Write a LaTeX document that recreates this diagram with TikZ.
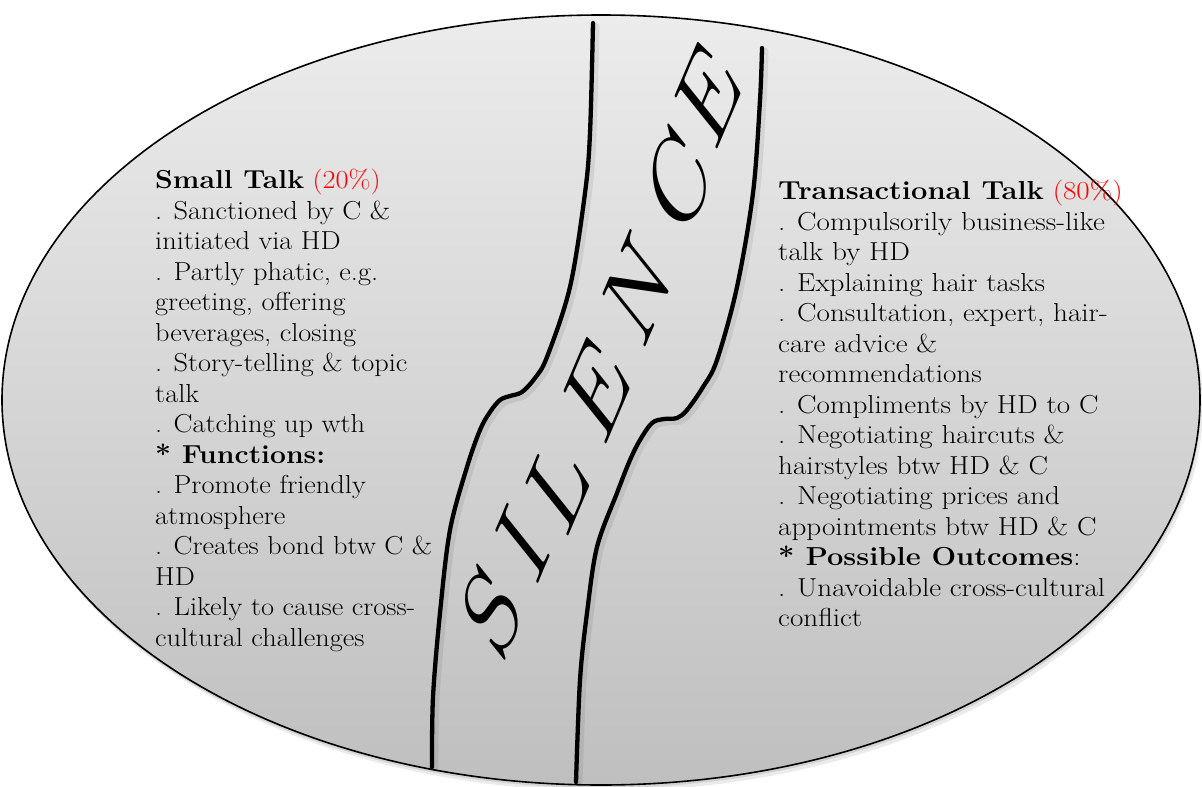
\documentclass[tikz,border=0pt]{standalone}
\usetikzlibrary{calc}
\definecolor{topg}{HTML}{ECECEC}
\definecolor{botg}{HTML}{BFBFBF}
\newcommand{\ltr}[2]{\makebox[0pt]{\raisebox{#1}{#2}}}
\begin{document}
\begin{tikzpicture}[x=1pt,y=-1pt,
  txt/.style={anchor=north west, inner sep=0pt, align=left, font=\fontsize{26}{30.5}\selectfont},
  river/.style={line width=4.3pt, line cap=round, line join=round},
  rshadow/.style={line width=7pt, draw=black, opacity=0.07, line cap=round},
  silence/.style={font=\fontsize{88}{88}\selectfont\itshape, inner sep=0pt, anchor=base west, rotate=67, xscale=1.35, xslant=0.15}]
\useasboundingbox (0,0) rectangle (1202,787);
% ellipse shadow
\fill[black, opacity=0.08] (604,406) ellipse [x radius=599, y radius=385];
\fill[black, opacity=0.10] (602,403) ellipse [x radius=599, y radius=385];
% ellipse
\shade[top color=topg, bottom color=botg, draw=black, line width=1.6pt] (601,400) ellipse [x radius=599, y radius=385];
% river shadows
\draw[rshadow] plot[smooth, tension=0.55] coordinates {(596,26) (593,136) (588,196) (573,290) (550,360) (538,381) (525,395) (513,399) (503,403) (493,415) (483,433) (470,470) (453,533) (443,616) (436,700) (435,768)};
\draw[rshadow] plot[smooth, tension=0.55] coordinates {(765,51) (763,103) (756,196) (740,290) (720,363) (706,390) (690,413) (680,421) (667,422) (655,426) (643,443) (633,463) (620,496) (600,550) (590,616) (583,683) (579,782)};
% river
\draw[river] plot[smooth, tension=0.55] coordinates {(593,23) (590,133) (585,193) (570,287) (547,357) (535,378) (522,392) (510,396) (500,400) (490,412) (480,430) (467,467) (450,530) (440,613) (433,697) (432,767)};
\draw[river] plot[smooth, tension=0.55] coordinates {(762,48) (760,100) (753,193) (737,287) (717,360) (703,387) (687,410) (677,418) (664,419) (652,423) (640,440) (630,460) (617,493) (597,547) (587,613) (580,680) (576,782)};
% SILENCE
\node[silence] (sil) at (512.9,637.2) {\ltr{0pt}{S}\hspace{55.0pt}\ltr{-2.3pt}{I}\hspace{52.8pt}\ltr{-12.1pt}{L}\hspace{75.9pt}\ltr{-10.9pt}{E}\hspace{79.4pt}\ltr{-8.6pt}{N}\hspace{84.3pt}\ltr{-4.5pt}{C}\hspace{67.6pt}\ltr{2.3pt}{E}};
% left text
\node[txt, xscale=1.09] (lefttxt) at (155,169) {\textbf{Small Talk} \textcolor{red}{(20\%)}\\
. Sanctioned by C \&\\
initiated via HD\\
. Partly phatic, e.g.\\
greeting, offering\\
beverages, closing\\
. Story-telling \& topic\\
talk\\
. Catching up wth\\
\textbf{* Functions:}\\
. Promote friendly\\
atmosphere\\
. Creates bond btw C \&\\
HD\\
. Likely to cause cross-\\
cultural challenges};
% right text
\node[txt, xscale=1.12] (righttxt) at (778,180) {\textbf{Transactional Talk} \textcolor{red}{(80\%)}\\
. Compulsorily business-like\\
talk by HD\\
. Explaining hair tasks\\
. Consultation, expert, hair-\\
care advice \&\\
recommendations\\
. Compliments by HD to C\\
. Negotiating haircuts \&\\
hairstyles btw HD \& C\\
. Negotiating prices and\\
appointments btw HD \& C\\
\textbf{* Possible Outcomes}:\\
. Unavoidable cross-cultural\\
conflict};
\end{tikzpicture}
\end{document}
